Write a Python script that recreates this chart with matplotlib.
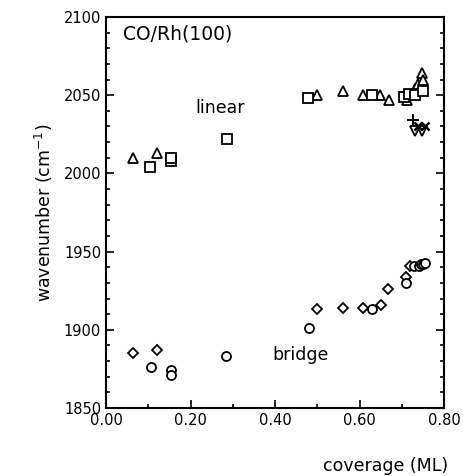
import matplotlib
matplotlib.use("Agg")
import matplotlib.pyplot as plt
from matplotlib.ticker import MultipleLocator, FormatStrFormatter

# linear (on-top) CO
lin_tri_x = [0.065, 0.12, 0.50, 0.562, 0.609, 0.648, 0.671, 0.712, 0.731, 0.739, 0.747, 0.751]
lin_tri_y = [2010, 2013, 2050, 2053, 2050, 2050, 2047, 2047, 2054, 2057, 2064, 2060]
lin_sq_x = [0.105, 0.155, 0.155, 0.286, 0.479, 0.629, 0.706, 0.718, 0.731, 0.751]
lin_sq_y = [2004, 2008, 2010, 2022, 2048, 2050, 2049, 2051, 2050, 2053]
lin_plus_x = [0.727]
lin_plus_y = [2034]
lin_star_x = [0.739, 0.755]
lin_star_y = [2030, 2030]
lin_dtri_x = [0.731, 0.749]
lin_dtri_y = [2027, 2027]

# bridge CO
br_dia_x = [0.065, 0.12, 0.50, 0.56, 0.609, 0.651, 0.668, 0.71, 0.72]
br_dia_y = [1885, 1887, 1913, 1914, 1914, 1916, 1926, 1934, 1941]
br_circ_x = [0.106, 0.153, 0.153, 0.284, 0.48, 0.63, 0.71, 0.73, 0.74, 0.745, 0.75, 0.755]
br_circ_y = [1876, 1874, 1871, 1883, 1901, 1913, 1930, 1941, 1941, 1942, 1942, 1943]

fig = plt.figure(figsize=(4.63, 4.76), dpi=100)
ax = fig.add_axes([106/463, 1-408/476, 338/463, 391/476])

mk = dict(linestyle='none', markerfacecolor='white', markeredgecolor='black',
          markeredgewidth=1.3)
ax.plot(lin_tri_x, lin_tri_y, marker='^', markersize=6.5, **mk)
ax.plot(lin_sq_x, lin_sq_y, marker='s', markersize=6.5, **mk)
ax.plot(lin_dtri_x, lin_dtri_y, marker='v', markersize=6.5, **mk)
ax.plot(lin_plus_x, lin_plus_y, marker='+', markersize=8, color='black',
        linestyle='none', markeredgewidth=1.4)
ax.plot(lin_star_x, lin_star_y, marker='x', markersize=6, color='black',
        linestyle='none', markeredgewidth=1.8)
ax.plot(br_dia_x, br_dia_y, marker='D', markersize=4.8, **mk)
ax.plot(br_circ_x, br_circ_y, marker='o', markersize=6.5, **mk)

ax.set_xlim(0.0, 0.80)
ax.set_ylim(1850, 2100)
ax.xaxis.set_major_locator(MultipleLocator(0.2))
ax.xaxis.set_minor_locator(MultipleLocator(0.1))
ax.xaxis.set_major_formatter(FormatStrFormatter('%.2f'))
ax.yaxis.set_major_locator(MultipleLocator(50))
ax.yaxis.set_minor_locator(MultipleLocator(10))
ax.tick_params(which='both', direction='in', left=True, right=True, bottom=True, top=False,
               labelsize=10.5, width=1.2)
ax.tick_params(which='major', length=6)
ax.tick_params(which='minor', length=3)
for s in ax.spines.values():
    s.set_linewidth(1.5)

ax.text(0.04, 2089, 'CO/Rh(100)', fontsize=13.5, va='center', ha='left')
ax.text(0.27, 2042, 'linear', fontsize=12.5, va='center', ha='center')
ax.text(0.46, 1884, 'bridge', fontsize=12.5, va='center', ha='center')

ax.set_ylabel('wavenumber (cm$^{-1}$)', fontsize=12.5, labelpad=6)
fig.text(448/463, 1-466/476, 'coverage (ML)', fontsize=12.5, ha='right', va='center')

fig.savefig('out.png', dpi=100)
